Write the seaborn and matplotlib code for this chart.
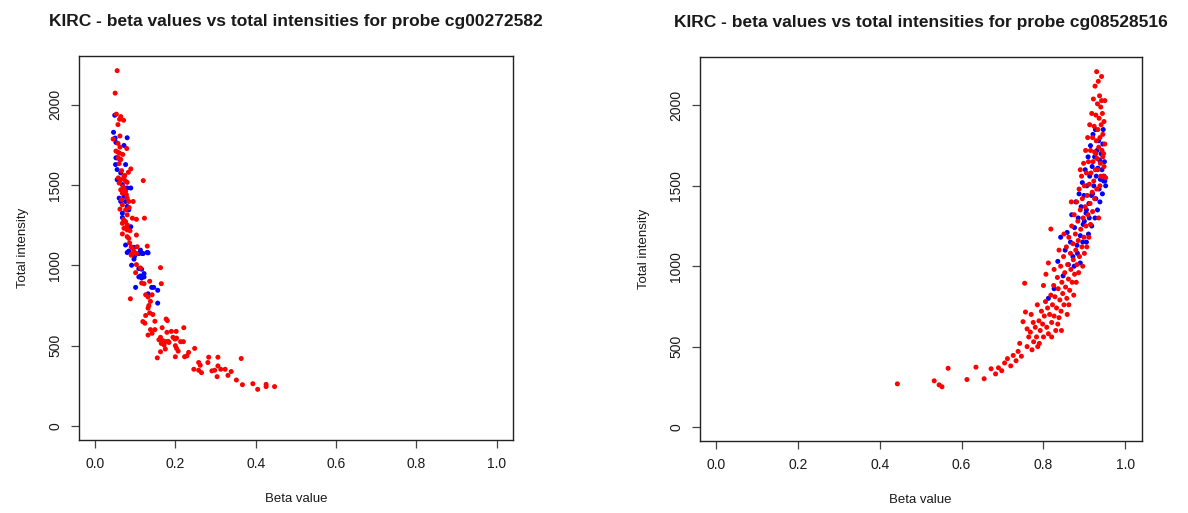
import matplotlib
matplotlib.use("Agg")
import matplotlib.pyplot as plt
import numpy as np
import pandas as pd
import seaborn as sns

# ---------------- data: probe cg00272582 ----------------
l_red_beta = [0.055, 0.050, 0.053, 0.064, 0.061, 0.071, 0.057, 0.062, 0.045, 0.057, 0.062, 0.079,
              0.052, 0.057, 0.061, 0.069, 0.058,
              0.064, 0.060, 0.089, 0.083, 0.072, 0.120, 0.064, 0.072, 0.076, 0.080, 0.060, 0.072,
              0.064, 0.076, 0.068, 0.080, 0.084, 0.095, 0.068, 0.062, 0.076, 0.080, 0.093, 0.103,
              0.123, 0.076, 0.068, 0.080, 0.072, 0.080, 0.087, 0.068, 0.103, 0.080, 0.084, 0.090,
              0.105, 0.093, 0.130, 0.097, 0.103, 0.090,
              0.093, 0.163, 0.103, 0.113, 0.101, 0.116, 0.122, 0.136, 0.165, 0.126, 0.142, 0.132,
              0.088, 0.138, 0.134, 0.132, 0.136, 0.126, 0.144, 0.119, 0.124, 0.149, 0.177, 0.180,
              0.138, 0.149, 0.167, 0.221, 0.190, 0.202, 0.179, 0.142, 0.132, 0.163, 0.159, 0.169,
              0.175, 0.182, 0.194, 0.199, 0.203, 0.213, 0.220, 0.165, 0.172, 0.184, 0.200, 0.175,
              0.203, 0.207, 0.248, 0.163, 0.233, 0.229, 0.223, 0.155, 0.200, 0.258, 0.262, 0.281,
              0.283, 0.306, 0.364, 0.246, 0.258, 0.265, 0.291, 0.298, 0.306, 0.313, 0.324, 0.339,
              0.304, 0.331, 0.352, 0.367, 0.393, 0.405, 0.426, 0.426, 0.447,
              0.066, 0.074, 0.058, 0.070, 0.078, 0.066, 0.085, 0.071, 0.079, 0.086]
l_red_int = [2213, 2073, 1942, 1927, 1910, 1904, 1877, 1806, 1787, 1760, 1737, 1728,
             1712, 1705, 1699, 1691, 1670,
             1660, 1634, 1601, 1580, 1555, 1528, 1534, 1538, 1524, 1517, 1513, 1482,
             1471, 1461, 1450, 1419, 1398, 1398, 1377, 1350, 1346, 1315, 1294, 1287,
             1294, 1273, 1262, 1252, 1231, 1221, 1216, 1196, 1189, 1179, 1168, 1116,
             1116, 1106, 1120, 1085, 1074, 1064,
             1074, 986, 1005, 984, 955, 890, 886, 901, 886, 817, 817, 803,
             792, 776, 750, 734, 704, 688, 694, 650, 640, 652, 666, 656,
             600, 600, 612, 612, 589, 589, 583, 577, 566, 552, 537, 531,
             525, 527, 552, 541, 547, 525, 525, 514, 504, 520, 500, 479,
             483, 466, 483, 462, 458, 437, 431, 424, 431, 395, 378, 395,
             428, 428, 420, 353, 347, 332, 343, 347, 374, 353, 353, 339,
             307, 315, 286, 257, 263, 228, 259, 245, 245,
             1590, 1560, 1545, 1490, 1440, 1410, 1360, 1285, 1240, 1140]
l_blue_beta = [0.049, 0.046, 0.080, 0.050, 0.052, 0.072, 0.052, 0.062,
               0.055, 0.051, 0.076, 0.055, 0.064, 0.055, 0.068, 0.080, 0.089, 0.072, 0.060,
               0.064, 0.076, 0.080, 0.084, 0.068, 0.068, 0.089, 0.076, 0.097, 0.113, 0.084,
               0.120, 0.130,
               0.080, 0.109, 0.117, 0.132, 0.099, 0.097, 0.091, 0.109, 0.116, 0.122, 0.109,
               0.116, 0.113, 0.122, 0.101, 0.141, 0.146, 0.156, 0.132, 0.156]
l_blue_int = [1935, 1829, 1795, 1793, 1766, 1747, 1670, 1660,
              1670, 1628, 1628, 1597, 1576, 1534, 1503, 1482, 1482, 1430, 1419,
              1398, 1398, 1367, 1346, 1325, 1298, 1241, 1127, 1112, 1095, 1089,
              1074, 1081,
              1080, 1074, 1074, 1078, 1060, 1039, 1001, 980, 976, 949, 928,
              922, 934, 928, 863, 863, 863, 845, 823, 765]

# ---------------- data: probe cg08528516 ----------------
r_red_beta = [0.443, 0.533, 0.545, 0.552, 0.567, 0.613, 0.635, 0.655, 0.672, 0.683, 0.690, 0.698,
              0.705, 0.712, 0.720, 0.726, 0.733, 0.738, 0.742, 0.746, 0.750, 0.754, 0.756, 0.760,
              0.764, 0.768, 0.772, 0.776, 0.780, 0.783, 0.786, 0.789, 0.792, 0.795, 0.798, 0.800,
              0.802, 0.805, 0.808, 0.810, 0.812, 0.815, 0.818, 0.818, 0.820, 0.822, 0.825, 0.826,
              0.828, 0.830, 0.832, 0.834, 0.836, 0.838, 0.840, 0.842, 0.843, 0.845, 0.847, 0.849,
              0.850, 0.852, 0.854, 0.856, 0.857, 0.859, 0.861, 0.862, 0.864, 0.866, 0.867, 0.869,
              0.870, 0.872, 0.873, 0.875, 0.876, 0.878, 0.879, 0.881, 0.882, 0.884, 0.885, 0.887,
              0.888, 0.890, 0.891, 0.893, 0.894, 0.895, 0.897, 0.898, 0.899, 0.900, 0.902, 0.903,
              0.904, 0.905, 0.907, 0.908, 0.909, 0.910, 0.912, 0.913, 0.914, 0.915, 0.916, 0.918,
              0.919, 0.920, 0.921, 0.922, 0.923, 0.924, 0.925, 0.926, 0.927, 0.928, 0.929, 0.930,
              0.931, 0.932, 0.933, 0.934, 0.935, 0.936, 0.937, 0.938, 0.939, 0.940, 0.941, 0.942,
              0.943, 0.944, 0.945, 0.946, 0.947, 0.948, 0.950,
              0.760, 0.770, 0.775, 0.785, 0.790, 0.800, 0.806, 0.812, 0.820, 0.826, 0.835, 0.838,
              0.844, 0.850, 0.858, 0.862, 0.868, 0.874, 0.880, 0.886, 0.890, 0.896, 0.900, 0.906,
              0.911, 0.915, 0.920, 0.925, 0.930, 0.935, 0.940, 0.945, 0.948, 0.950, 0.942, 0.938,
              0.933, 0.928, 0.952]
r_red_int = [268, 287, 262, 250, 365, 295, 372, 300, 362, 330, 368, 350,
             398, 425, 380, 445, 412, 470, 520, 440, 655, 894, 715, 500,
             560, 590, 480, 530, 620, 560, 500, 660, 600, 720, 640, 560,
             690, 780, 620, 740, 580, 700, 1231, 820, 650, 760, 880, 690,
             810, 600, 740, 930, 860, 680, 790, 1000, 720, 900, 830, 1060,
             760, 960, 870, 1120, 800, 1010, 920, 1180, 850, 1080, 980, 1250,
             900, 1140, 1040, 1320, 950, 1200, 1100, 1400, 1010, 1280, 1160, 1480,
             1060, 1350, 1230, 1560, 1120, 1420, 1300, 1640, 1180, 1500, 1370, 1720,
             1250, 1580, 1440, 1800, 1320, 1650, 1510, 1880, 1390, 1720, 1580, 1950,
             1460, 1800, 1650, 2040, 1530, 1870, 1710, 2120, 1600, 1940, 1780, 2210,
             1670, 2010, 1850, 2150, 1740, 1920, 2060, 1800, 1640, 1990, 1880, 2030,
             1720, 1950, 1820, 1560, 1700, 1620, 1760,
             610, 700, 650, 760, 520, 880, 950, 1020, 560, 980, 640, 1100,
             600, 1200, 700, 760, 1400, 820, 900, 960, 1600, 1000, 1080, 1120,
             1180, 1260, 1340, 1420, 1480, 1300, 1560, 1680, 1900, 2030, 2180, 1500,
             1600, 1700, 1550]
r_blue_beta = [0.812, 0.826, 0.835, 0.842, 0.848, 0.853, 0.858, 0.861, 0.866, 0.869, 0.872, 0.876,
               0.879, 0.882, 0.885, 0.887, 0.890, 0.892, 0.895, 0.897, 0.899, 0.902, 0.904, 0.906,
               0.909, 0.911, 0.913, 0.915, 0.917, 0.919, 0.921, 0.923, 0.925, 0.927, 0.929, 0.931,
               0.933, 0.935, 0.937, 0.939, 0.941, 0.943, 0.945, 0.947, 0.949, 0.944, 0.938, 0.932,
               0.926, 0.918, 0.910, 0.905,
               0.875, 0.883, 0.890, 0.896, 0.900, 0.905, 0.912, 0.920, 0.928, 0.936, 0.948, 0.950,
               0.952, 0.946]
r_blue_int = [800, 860, 1030, 1180, 940, 1100, 1210, 1010, 1150, 1320, 1060, 1240,
              1400, 1130, 1300, 1450, 1190, 1370, 1520, 1260, 1440, 1600, 1330, 1500,
              1680, 1390, 1560, 1750, 1440, 1620, 1820, 1500, 1680, 1850, 1560, 1720,
              1610, 1780, 1660, 1540, 1700, 1600, 1760, 1530, 1650, 1450, 1400, 1350,
              1300, 1250, 1200, 1150,
              1000, 1080, 1020, 1150, 1280, 1350, 1300, 1450, 1420, 1480, 1560, 1530,
              1500, 1850]

titles = ["KIRC - beta values vs total intensities for probe cg00272582",
          "KIRC - beta values vs total intensities for probe cg08528516"]
x_ticks = [0.0, 0.2, 0.4, 0.6, 0.8, 1.0]
x_tick_labels = ["0.0", "0.2", "0.4", "0.6", "0.8", "1.0"]
y_ticks = [0, 500, 1000, 1500, 2000]
y_tick_labels = ["0", "500", "1000", "1500", "2000"]

sns.set_style("white")
plt.rcParams['font.family'] = ['Liberation Sans', 'DejaVu Sans']

fig = plt.figure(figsize=(11.88, 5.13), dpi=100)
ax1 = fig.add_axes([0.0665, 0.142, 0.365, 0.748])
ax2 = fig.add_axes([0.589, 0.140, 0.372, 0.748])

palette = {"tumor": "#FF0000", "normal": "#0000FF"}
text_col = "#1a1a1a"


def panel(ax, rb, ri, bb, bi, title):
    df = pd.DataFrame({
        "beta": list(bb) + list(rb),
        "intensity": list(bi) + list(ri),
        "group": ["normal"] * len(bb) + ["tumor"] * len(rb),
    })
    sns.scatterplot(data=df, x="beta", y="intensity", hue="group", palette=palette,
                    s=13, linewidth=0, legend=False, ax=ax)
    ymax = df["intensity"].max()
    ax.set_xlim(-0.04, 1.04)
    ax.set_ylim(-0.04 * ymax, 1.04 * ymax)
    ax.set_xticks(x_ticks)
    ax.set_xticklabels(x_tick_labels)
    ax.set_yticks(y_ticks)
    ax.set_yticklabels(y_tick_labels, rotation=90, va="center")
    for sp in ax.spines.values():
        sp.set_visible(True)
        sp.set_color("#222222")
        sp.set_linewidth(1.0)
    ax.tick_params(direction="out", length=6, width=0.9, color="#444444",
                   labelsize=10, labelcolor=text_col, pad=6,
                   bottom=True, left=True)
    ax.set_xlabel("Beta value", fontsize=9.5, color=text_col, labelpad=16)
    ax.set_ylabel("Total intensity", fontsize=9.5, color=text_col, labelpad=14)
    ax.set_title(title, fontsize=12.5, fontweight="bold", color=text_col, pad=22)


panel(ax1, l_red_beta, l_red_int, l_blue_beta, l_blue_int, titles[0])
panel(ax2, r_red_beta, r_red_int, r_blue_beta, r_blue_int, titles[1])

fig.savefig("out.png", dpi=100, facecolor="white")
